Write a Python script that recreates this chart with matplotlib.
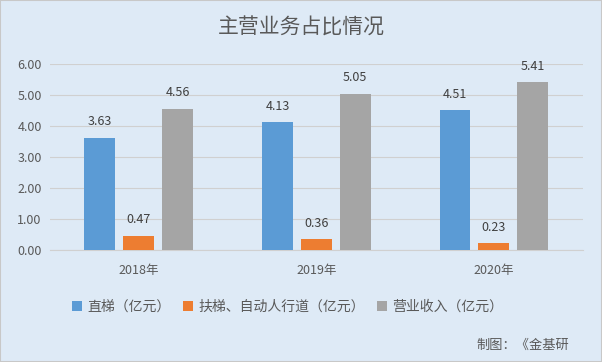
import matplotlib.pyplot as plt
import numpy as np

plt.rcParams['font.family'] = ['Noto Sans CJK SC', 'DejaVu Sans']

years = ["2018年", "2019年", "2020年"]
zhiti = [3.63, 4.13, 4.51]
futi = [0.47, 0.36, 0.23]
yingye = [4.56, 5.05, 5.41]
series_names = ["直梯（亿元）", "扶梯、自动人行道（亿元）", "营业收入（亿元）"]
colors = ["#5B9BD5", "#ED7D31", "#A5A5A5"]

bg = "#DEEAF6"
fig = plt.figure(figsize=(6.02, 3.62), dpi=100, facecolor=bg)
ax = fig.add_axes([0.083, 0.309, 0.885, 0.514], facecolor=bg)

x = np.arange(len(years))
w = 0.174
step = 0.219
for i, (vals, name, c) in enumerate(zip([zhiti, futi, yingye], series_names, colors)):
    pos = x + (i - 1) * step
    ax.bar(pos, vals, width=w, color=c, label=name, zorder=3)
    for px, v in zip(pos, vals):
        ax.text(px, v + 0.3, f"{v:.2f}", ha="center", va="bottom",
                fontsize=9, color="#404040")

ax.set_ylim(0, 6)
ax.set_xlim(-0.5, 2.5)
ax.set_yticks(np.arange(0, 6.01, 1))
ax.set_yticklabels([f"{t:.2f}" for t in np.arange(0, 6.01, 1)], fontsize=9, color="#595959")
ax.set_xticks(x)
ax.set_xticklabels(years, fontsize=9, color="#595959")
ax.grid(axis="y", color="#D0D0D0", linewidth=0.8, zorder=0)
for s in ["top", "right", "left"]:
    ax.spines[s].set_visible(False)
ax.spines["bottom"].set_color("#D0D0D0")
ax.tick_params(axis="y", length=0, pad=6)
ax.tick_params(axis="x", length=0, pad=10)

fig.text(0.5, 0.925, "主营业务占比情况", ha="center", va="center",
         fontsize=15, color="#595959")
fig.legend(loc="center", bbox_to_anchor=(0.478, 0.152), ncol=3, frameon=False,
           fontsize=10, handlelength=0.7, handleheight=0.7, handletextpad=0.4,
           columnspacing=0.9, labelcolor="#595959")
fig.text(0.945, 0.047, "制图：《金基研", ha="right", va="center",
         fontsize=9.5, color="#595959")

border = plt.Rectangle((0, 0), 1, 1, transform=fig.transFigure, fill=False,
                       edgecolor="#C8C8C8", linewidth=1.5)
fig.patches.append(border)

fig.savefig("out.png", dpi=100, facecolor=bg)
